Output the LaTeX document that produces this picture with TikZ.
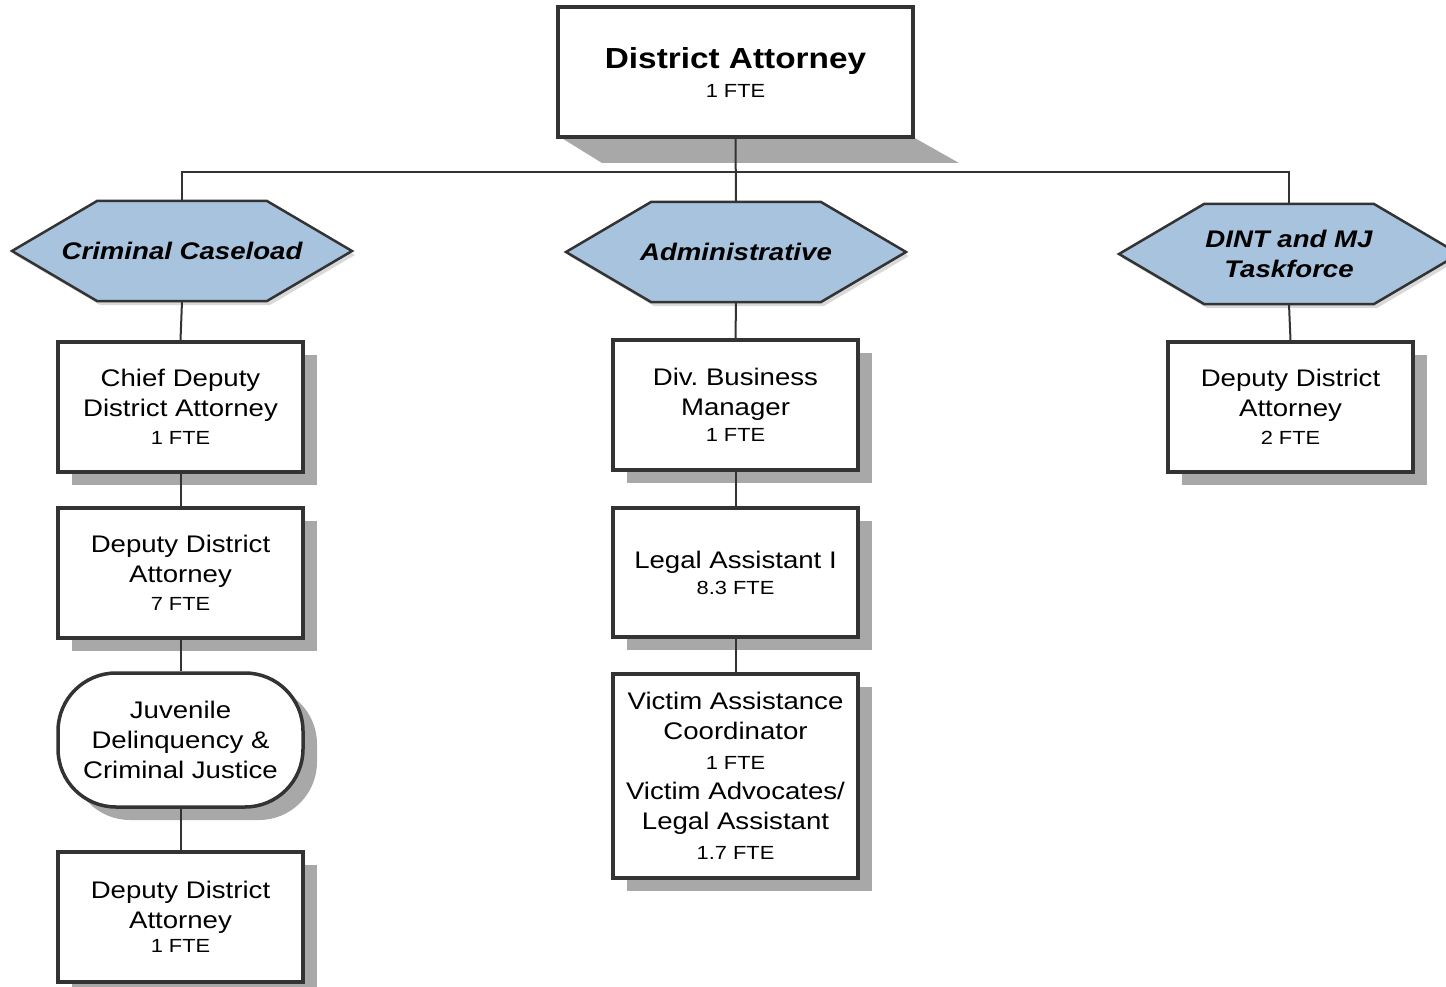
\documentclass[tikz,border=0pt]{standalone}
\usepackage{fontspec}
\setmainfont[FakeStretch=1.15]{Liberation Sans}
\usetikzlibrary{shadows,calc}
\definecolor{linec}{HTML}{333333}
\definecolor{hexfill}{HTML}{A7C3DD}
\definecolor{shadowc}{HTML}{A8A8A8}
\definecolor{hexshadow}{HTML}{D9D9D9}
\newcommand\fte[1]{{\fontsize{19}{30}\selectfont #1}}
\newcommand\hexnode[4]{%
  \fill[hexshadow] ({#2-167},{#3+4}) -- ({#2-82},{#3-46}) -- ({#2+88},{#3-46}) -- ({#2+173},{#3+4}) -- ({#2+88},{#3+54}) -- ({#2-82},{#3+54}) -- cycle;
  \draw[hexstyle] ({#2-170},#3) -- ({#2-85},{#3-50}) -- ({#2+85},{#3-50}) -- ({#2+170},#3) -- ({#2+85},{#3+50}) -- ({#2-85},{#3+50}) -- cycle;
  \node[hextext] (#1) at (#2,#3) {#4};}
\begin{document}
\frenchspacing
\begin{tikzpicture}[x=1pt,y=-1pt,
  box/.style={draw=linec, line width=3.5pt, fill=white, minimum width=245pt, minimum height=130pt,
    align=center, inner sep=0pt, font=\fontsize{24}{30}\selectfont,
    drop shadow={shadow xshift=14pt, shadow yshift=-13pt, fill=shadowc, opacity=1}},
  topbox/.style={draw=linec, line width=3.5pt, fill=white, minimum width=355pt, minimum height=130pt,
    align=center, inner sep=0pt, font=\fontsize{29}{29}\selectfont},
  hexstyle/.style={draw=linec, line width=2.5pt, fill=hexfill, line join=miter},
  hextext/.style={minimum width=340pt, minimum height=100pt, inner sep=0pt, align=center,
    font=\fontsize{24}{30}\selectfont\bfseries\itshape},
  conn/.style={draw=linec, line width=2pt}]
\useasboundingbox (0,0) rectangle (1446,987);
% top box with perspective shadow
\fill[shadowc] (560,137) -- (913,137) -- (959,163) -- (602,163) -- cycle;
\node[topbox] (da) at (735.5,72) {{\bfseries District Attorney}\\\fte{1 FTE}};
% bus
\coordinate (bus) at (736,172);
% hexagons
\hexnode{crim}{182}{251}{Criminal Caseload}
\hexnode{admin}{736}{252}{Administrative}
\hexnode{dint}{1289}{254}{DINT and MJ\\Taskforce}
% left column
\node[box] (chief) at (180.5,407) {Chief Deputy\\District Attorney\\[-2pt]\fte{1 FTE}};
\node[box] (dda7) at (180.5,573) {Deputy District\\Attorney\\[-2pt]\fte{7 FTE}};
\node[box, rounded corners=58pt, minimum height=134pt] (juv) at (180.5,740) {Juvenile\\Delinquency \&\\Criminal Justice};
\node[box] (dda1) at (180.5,917) {Deputy District\\Attorney\\[-6pt]\fte{1 FTE}};
% middle column
\node[box] (div) at (735.5,405) {Div. Business\\Manager\\[-4pt]\fte{1 FTE}};
\node[box, minimum height=129pt] (legal) at (735.5,572.5) {Legal Assistant I\\[-4pt]\fte{8.3 FTE}};
\node[box, minimum height=204pt] (victim) at (735.5,776) {Victim Assistance\\Coordinator\\\fte{1 FTE}\\Victim Advocates/\\Legal Assistant\\\fte{1.7 FTE}};
% right column
\node[box] (ddar) at (1290.5,407) {Deputy District\\Attorney\\[-2pt]\fte{2 FTE}};
% connectors
\draw[conn] (da.south) -- (admin.north);
\draw[conn] (crim.north) -- (crim.north |- bus) -- (dint.north |- bus) -- (dint.north);
\draw[conn] (crim.south) -- (chief.north);
\draw[conn] (chief.south) -- (dda7.north);
\draw[conn] (dda7.south) -- (juv.north);
\draw[conn] (juv.south) -- (dda1.north);
\draw[conn] (admin.south) -- (div.north);
\draw[conn] (div.south) -- (legal.north);
\draw[conn] (legal.south) -- (victim.north);
\draw[conn] (dint.south) -- (ddar.north);
\end{tikzpicture}
\end{document}
